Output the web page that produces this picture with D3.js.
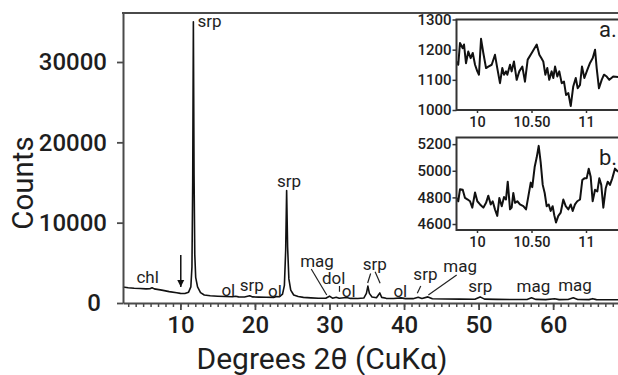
<!DOCTYPE html>
<html>
<head>
<meta charset="utf-8">
<script src="https://cdn.jsdelivr.net/npm/d3@7"></script>
<style>
  body { margin: 0; background: #fff; }
  text { font-family: Roboto, "Liberation Sans", sans-serif; fill: #1e1e1e; }
</style>
</head>
<body>
<script>
// main diffractogram (degrees 2theta, counts)
var mainDeg = [2.3, 3.0, 3.8, 4.6, 5.4, 5.9, 6.2, 6.5, 7.5, 8.5, 9.5, 10.0, 10.6, 11.1, 11.4, 11.55, 11.65, 11.74, 11.83, 11.93, 12.05, 12.3, 12.7, 13.2,
  14.0, 15.0, 16.0, 17.0, 17.4, 17.8, 18.6, 19.3, 19.7, 20.5, 21.5, 22.5, 22.9, 23.3, 23.7, 23.95, 24.12, 24.25, 24.38, 24.55, 24.8, 25.2, 25.8,
  26.5, 27.5, 28.5, 29.5, 30.0, 30.4, 30.9, 31.3, 32.3, 32.8, 33.8, 34.6, 34.95, 35.15, 35.35, 35.7, 36.3, 36.75, 37.0, 37.6, 38.6, 39.6, 40.2,
  41.2, 41.9, 42.4, 43.2, 43.8, 45.5, 47.5, 49.5, 50.2, 50.8, 52.5, 54.5, 56.5, 57.1, 57.7, 59.0, 60.2, 60.8, 62.0, 62.7, 63.3, 64.8, 65.3, 65.8, 67.5, 68.7];
var mainCounts = [2000, 1900, 1830, 1800, 1760, 1780, 1900, 1760, 1600, 1420, 1280, 1200, 1180, 1350, 2000, 4500, 15000, 35000, 16000, 6000, 3200, 2000, 1300, 1000,
  900, 840, 800, 770, 830, 760, 740, 900, 760, 730, 710, 700, 800, 780, 1100, 2200, 6500, 14000, 7000, 3000, 1600, 1000, 800,
  700, 640, 600, 600, 850, 600, 720, 590, 680, 570, 560, 620, 1200, 2100, 1200, 750, 650, 1250, 700, 580, 560, 640, 540,
  540, 720, 560, 760, 530, 500, 480, 470, 760, 480, 450, 430, 440, 640, 450, 420, 520, 420, 430, 640, 430, 420, 540, 420, 400, 400];

// inset a
var insetADeg = [9.814, 9.828, 9.844, 9.869, 9.881, 9.899, 9.920, 9.942, 9.961, 9.982, 10.003, 10.018, 10.037, 10.058, 10.083, 10.104, 10.135, 10.165,
  10.186, 10.211, 10.232, 10.248, 10.266, 10.278, 10.303, 10.318, 10.339, 10.364, 10.388, 10.416, 10.440, 10.465, 10.502, 10.548, 10.572, 10.590,
  10.608, 10.627, 10.645, 10.663, 10.685, 10.700, 10.716, 10.737, 10.755, 10.777, 10.798, 10.817, 10.838, 10.860, 10.883, 10.906, 10.924, 10.945,
  10.963, 10.985, 11.012, 11.037, 11.062, 11.083, 11.098, 11.119, 11.144, 11.165, 11.190, 11.214, 11.250, 11.294];
var insetACounts = [1161, 1150, 1222, 1205, 1217, 1155, 1194, 1172, 1189, 1150, 1128, 1117, 1236, 1189, 1139, 1144, 1150, 1183,
  1139, 1089, 1139, 1117, 1128, 1117, 1150, 1128, 1161, 1100, 1128, 1144, 1094, 1167, 1189, 1217, 1183, 1172,
  1161, 1117, 1139, 1100, 1128, 1106, 1144, 1111, 1128, 1089, 1094, 1050, 1056, 1013, 1078, 1106, 1072, 1083,
  1144, 1106, 1133, 1156, 1172, 1200, 1139, 1072, 1100, 1117, 1111, 1100, 1111, 1109];

// inset b
var insetBDeg = [9.814, 9.828, 9.844, 9.869, 9.890, 9.915, 9.936, 9.957, 9.982, 10.003, 10.028, 10.058, 10.083, 10.104, 10.126, 10.144, 10.165, 10.186,
  10.205, 10.227, 10.248, 10.266, 10.282, 10.303, 10.318, 10.333, 10.349, 10.370, 10.394, 10.425, 10.450, 10.471, 10.493, 10.507, 10.529, 10.548,
  10.566, 10.584, 10.603, 10.621, 10.639, 10.658, 10.676, 10.694, 10.709, 10.725, 10.746, 10.768, 10.792, 10.814, 10.838, 10.860, 10.878, 10.899,
  10.920, 10.945, 10.966, 10.985, 11.006, 11.025, 11.043, 11.061, 11.083, 11.104, 11.122, 11.140, 11.159, 11.181, 11.199, 11.220, 11.241, 11.266, 11.294];
var insetBCounts = [4796, 4771, 4862, 4857, 4796, 4784, 4771, 4723, 4837, 4771, 4747, 4723, 4759, 4813, 4747, 4771, 4710, 4661,
  4796, 4734, 4803, 4784, 4918, 4710, 4723, 4833, 4759, 4771, 4747, 4734, 4710, 4808, 4911, 4877, 5028, 5101,
  5187, 5065, 4894, 4833, 4734, 4747, 4698, 4734, 4666, 4612, 4661, 4686, 4784, 4734, 4710, 4747, 4698, 4747,
  4771, 4784, 4930, 4943, 4943, 5016, 4955, 4771, 4857, 4845, 4943, 4894, 4723, 4869, 4918, 4894, 4943, 5016, 4992];

// ticks
var mainXTicks = [10, 20, 30, 40, 50, 60];
var mainYTicks = [0, 10000, 20000, 30000];
var insetXTicks = [10, 10.5, 11];
var insetXLabels = ["10", "10.50", "11"];
var insetATicks = [1000, 1100, 1200, 1300];
var insetBTicks = [4600, 4800, 5000, 5200];

// peak labels: text, degrees, counts at baseline
var peakText = ["srp", "srp", "chl", "ol", "srp", "ol", "mag", "dol", "ol", "srp", "ol", "srp", "mag", "srp", "mag", "mag"];
var peakDeg = [12.3, 22.95, 4.1, 15.5, 17.95, 21.75, 26.07, 28.98, 31.66, 34.47, 38.57, 41.25, 45.27, 48.61, 55.1, 60.67];
var peakCounts = [34300, 14480, 2450, 870, 1490, 740, 4520, 2370, 790, 4110, 790, 2860, 3900, 1410, 1410, 1490];

// leader lines [deg1, counts1, deg2, counts2]
var leaders = [[27.55, 4230, 29.63, 1000], [31.34, 2120, 31.34, 1400], [35.52, 3670, 35.12, 2490], [36.12, 3900, 36.79, 2450],
  [42.24, 2120, 41.78, 1210], [47.06, 3490, 43.26, 1000]];

var W = 618, H = 375;
var svg = d3.select("body").append("svg").attr("width", W).attr("height", H);

var x = d3.scaleLinear().domain([2.3, 68.7]).range([123, 618]);
var y = d3.scaleLinear().domain([0, 36100]).range([303, 13]);

var axisCol = "#4a4a4a";

// spectrum
var mainLine = d3.line().x(function(d){ return x(d[0]); }).y(function(d){ return y(d[1]); });
svg.append("path")
  .datum(mainDeg.map(function(d, i){ return [d, mainCounts[i]]; }))
  .attr("d", mainLine)
  .attr("fill", "none")
  .attr("stroke", "#111")
  .attr("stroke-width", 1.6)
  .attr("stroke-linejoin", "round");

// x axis, minor then major ticks
var xMinor = svg.append("g").attr("transform", "translate(0,303)")
  .call(d3.axisBottom(x).tickValues(d3.range(3, 69)).tickSize(4).tickFormat(""));
xMinor.select(".domain").remove();
xMinor.selectAll("line").attr("stroke", axisCol).attr("stroke-width", 1.5);

var xAxisG = svg.append("g").attr("transform", "translate(0,303)")
  .call(d3.axisBottom(x).tickValues(mainXTicks).tickSize(7).tickSizeOuter(0).tickPadding(6));
xAxisG.select(".domain").attr("stroke", axisCol).attr("stroke-width", 2);
xAxisG.selectAll("line").attr("stroke", axisCol).attr("stroke-width", 1.8);
xAxisG.selectAll("text").style("font-size", "24px").style("font-weight", 500).attr("fill", "#1e1e1e");

// y axis
var yAxisG = svg.append("g").attr("transform", "translate(123,0)")
  .call(d3.axisLeft(y).tickValues(mainYTicks).tickSize(6).tickSizeOuter(0).tickPadding(10).tickFormat(d3.format("d")));
yAxisG.select(".domain").attr("stroke", axisCol).attr("stroke-width", 2);
yAxisG.selectAll("line").attr("stroke", axisCol).attr("stroke-width", 1.8);
yAxisG.selectAll("text").style("font-size", "24px").style("font-weight", 500).attr("fill", "#1e1e1e");
// the zero label sits a little further left in the original
yAxisG.selectAll(".tick").filter(function(d){ return d == 0; }).select("text").attr("dx", -6);

// top border
svg.append("line").attr("x1", 122).attr("x2", 618).attr("y1", 13).attr("y2", 13)
  .attr("stroke", axisCol).attr("stroke-width", 2);

// axis titles
svg.append("text").attr("x", 322).attr("y", 369).attr("text-anchor", "middle")
  .style("font-size", "30px").text("Degrees 2θ (CuKα)");
svg.append("text").attr("transform", "translate(33,183) rotate(-90)").attr("text-anchor", "middle")
  .style("font-size", "29.5px").text("Counts");

// peak labels
svg.selectAll("text.peak")
  .data(peakText)
  .enter()
  .append("text")
  .attr("class", "peak")
  .attr("x", function(d, i){ return x(peakDeg[i]); })
  .attr("y", function(d, i){ return y(peakCounts[i]); })
  .style("font-size", "17px")
  .text(function(d){ return d; });

svg.selectAll("line.leader")
  .data(leaders)
  .enter()
  .append("line")
  .attr("class", "leader")
  .attr("x1", function(d){ return x(d[0]); })
  .attr("y1", function(d){ return y(d[1]); })
  .attr("x2", function(d){ return x(d[2]); })
  .attr("y2", function(d){ return y(d[3]); })
  .attr("stroke", "#222")
  .attr("stroke-width", 1.2);

// arrow at 10 deg
svg.append("defs").append("marker")
  .attr("id", "arrowHead").attr("viewBox", "0 0 10 10").attr("refX", 10).attr("refY", 5)
  .attr("markerWidth", 7).attr("markerHeight", 8).attr("markerUnits", "userSpaceOnUse").attr("orient", "auto")
  .append("path").attr("d", "M0,0L10,5L0,10Z").attr("fill", "#111");
svg.append("line")
  .attr("x1", x(10.05)).attr("x2", x(10.05)).attr("y1", y(5980)).attr("y2", y(1990))
  .attr("stroke", "#111").attr("stroke-width", 1.5).attr("marker-end", "url(#arrowHead)");

// insets
var xi = d3.scaleLinear().domain([10, 11]).range([477, 586]);

function drawInset(top, bottom, domain, ticks, degs, counts, tag, clipId) {
  var yi = d3.scaleLinear().domain(domain).range([bottom, top]);
  var g = svg.append("g");
  g.append("rect").attr("x", 456.5).attr("y", top).attr("width", 170).attr("height", bottom - top)
    .attr("fill", "#fff");
  g.append("clipPath").attr("id", clipId).append("rect")
    .attr("x", 456.5).attr("y", top).attr("width", 170).attr("height", bottom - top);
  var ln = d3.line().x(function(d){ return xi(d[0]); }).y(function(d){ return yi(d[1]); });
  g.append("path")
    .datum(degs.map(function(d, i){ return [d, counts[i]]; }))
    .attr("d", ln)
    .attr("clip-path", "url(#" + clipId + ")")
    .attr("fill", "none").attr("stroke", "#111").attr("stroke-width", 2).attr("stroke-linejoin", "round");
  g.append("rect").attr("x", 456.5).attr("y", top).attr("width", 170).attr("height", bottom - top)
    .attr("fill", "none").attr("stroke", "#333").attr("stroke-width", 2);

  var ya = g.append("g").attr("transform", "translate(456.5,0)")
    .call(d3.axisLeft(yi).tickValues(ticks).tickSize(4).tickSizeOuter(0).tickPadding(1).tickFormat(d3.format("d")));
  ya.select(".domain").remove();
  ya.selectAll("line").attr("stroke", "#333").attr("stroke-width", 1.5);
  ya.selectAll("text").style("font-size", "15px").style("font-weight", 500).attr("fill", "#1e1e1e");

  var xa = g.append("g").attr("transform", "translate(0," + bottom + ")")
    .call(d3.axisBottom(xi).tickValues(insetXTicks).tickSize(3).tickPadding(4)
      .tickFormat(function(d, i){ return insetXLabels[i]; }));
  xa.select(".domain").remove();
  xa.selectAll("line").attr("stroke", "#333").attr("stroke-width", 1.5);
  xa.selectAll("text").style("font-size", "14.5px").style("font-weight", 500).attr("fill", "#1e1e1e");

  g.append("text").attr("x", 599).attr("y", top + (tag == "a." ? 17.5 : 27))
    .style("font-size", "22px").text(tag);
}

drawInset(19.5, 110, [1000, 1300], insetATicks, insetADeg, insetACounts, "a.", "clipA");
drawInset(137.5, 230, [4555, 5250], insetBTicks, insetBDeg, insetBCounts, "b.", "clipB");
</script>
</body>
</html>
